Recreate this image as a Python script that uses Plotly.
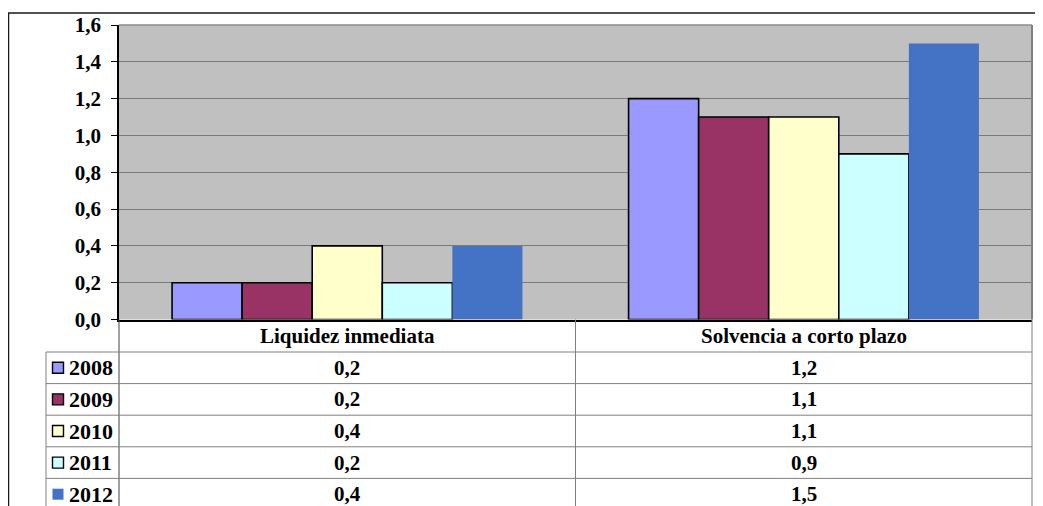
import plotly.graph_objects as go

W, H = 1043, 506
OFF = 8  # page body margin of the html page

categories = ["Liquidez inmediata", "Solvencia a corto plazo"]
years = ["2008", "2009", "2010", "2011", "2012"]
v2008 = [0.2, 1.2]
v2009 = [0.2, 1.1]
v2010 = [0.4, 1.1]
v2011 = [0.2, 0.9]
v2012 = [0.4, 1.5]
series_values = [v2008, v2009, v2010, v2011, v2012]
colors = ["#9999FF", "#993366", "#FFFFCC", "#CCFFFF", "#4472C4"]
outlined = [True, True, True, True, False]
y_ticks = [0.0, 0.2, 0.4, 0.6, 0.8, 1.0, 1.2, 1.4, 1.6]

FONT = "Liberation Serif"


def fx(x):
    return (x - OFF) / W


def fy(y):
    return 1 - (y - OFF) / H


# pixel layout (page coordinates)
PL, PR, PT, PB = 119, 1032, 25, 319.5
HEAD_B = 352
ROW_H = 31.6
LEG_L = 46
BOTTOM = 506

fig = go.Figure()
for name, vals, col, ol in zip(years, series_values, colors, outlined):
    fig.add_trace(go.Bar(
        x=categories, y=vals, name=name,
        marker=dict(color=col, line=dict(color="black", width=1.6 if ol else 0)),
        showlegend=False,
    ))

shapes = []
annotations = []


def hline(x0, x1, y, color, width):
    shapes.append(dict(type="line", xref="paper", yref="paper", x0=fx(x0), x1=fx(x1), y0=fy(y), y1=fy(y),
                       line=dict(color=color, width=width)))


def vline(x, y0, y1, color, width):
    shapes.append(dict(type="line", xref="paper", yref="paper", x0=fx(x), x1=fx(x), y0=fy(y0), y1=fy(y1),
                       line=dict(color=color, width=width)))


# outer frame
hline(8, 1042, 13, "#1a1a1a", 1.5)
vline(8.5, 13, BOTTOM + 5, "#1a1a1a", 1.5)
# plot area border top/right
hline(PL, PR, PT, "#8c8c8c", 1.5)
vline(PR, PT, PB, "#808080", 2)

# data table grid
tcol = "#808080"
vline(PL, PB, BOTTOM + 5, "#404040", 1)
vline((PL + PR) / 2, PB, BOTTOM + 5, tcol, 1)
vline(PR, PB, BOTTOM + 5, tcol, 1)
vline(LEG_L, HEAD_B, BOTTOM + 5, tcol, 1)
for i in range(len(years)):
    hline(LEG_L, PR, HEAD_B + i * ROW_H, tcol, 1)

tfont = dict(family=FONT, size=21, color="black")
lfont = dict(family=FONT, size=22, color="black")
for c in categories:
    annotations.append(dict(x=c, xref="x", y=fy((PB + HEAD_B) / 2), yref="paper", text="<b>%s</b>" % c,
                            showarrow=False, font=tfont, xanchor="center", yanchor="middle"))
for i, (name, vals, col, ol) in enumerate(zip(years, series_values, colors, outlined)):
    yc = HEAD_B + i * ROW_H + ROW_H / 2
    shapes.append(dict(type="rect", xref="paper", yref="paper", x0=fx(52.5), x1=fx(63.5),
                       y0=fy(yc - 5.5), y1=fy(yc + 5.5),
                       fillcolor=col, line=dict(color="black", width=1.4 if ol else 0)))
    annotations.append(dict(x=fx(66.5), xref="paper", y=fy(yc), yref="paper", text="<b>%s</b>" % name,
                            showarrow=False, font=lfont, xanchor="left", yanchor="middle"))
    for c, v in zip(categories, vals):
        annotations.append(dict(x=c, xref="x", y=fy(yc), yref="paper",
                                text="<b>%s</b>" % ("%.1f" % v).replace(".", ","),
                                showarrow=False, font=tfont, xanchor="center", yanchor="middle"))

fig.update_layout(
    width=W, height=H, autosize=False,
    margin=dict(l=0, r=0, t=0, b=0, pad=0),
    paper_bgcolor="white", plot_bgcolor="#C0C0C0",
    barmode="group", bargap=0.2325, bargroupgap=0,
    separators=",.",
    font=dict(family=FONT, color="black"),
    xaxis=dict(domain=[fx(PL), fx(PR)], range=[-0.5, 1.5], showticklabels=False, ticks="",
               showline=True, linecolor="black", linewidth=1.5, showgrid=False, zeroline=False,
               fixedrange=True, automargin=False),
    yaxis=dict(domain=[fy(PB), fy(PT)], range=[0, 1.6], tickvals=y_ticks, tickformat=".1f",
               ticks="outside", ticklen=6, tickcolor="black", tickwidth=1,
               showline=True, linecolor="black", linewidth=1.5,
               showgrid=True, gridcolor="#7a7a7a", gridwidth=1, zeroline=False,
               tickfont=dict(family=FONT, size=21, color="black", weight="bold"),
               ticklabelstandoff=6, automargin=False),
    shapes=shapes, annotations=annotations,
)

fig.write_html("out.html")
